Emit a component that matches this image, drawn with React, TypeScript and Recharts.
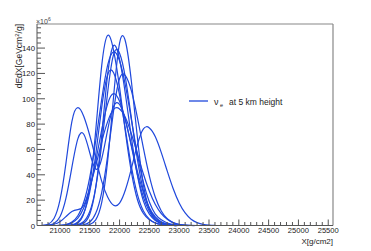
import React from 'react';
import { LineChart, Line, XAxis, YAxis, ReferenceLine } from 'recharts';

// depth grid [g/cm2] shared by all profiles
const depth = [
  20700, 20800, 20900, 21000, 21100, 21200, 21300, 21400, 21500, 21600,
  21700, 21800, 21900, 22000, 22100, 22200, 22300, 22400, 22500, 22600,
  22700, 22800, 22900, 23000, 23100, 23200, 23300, 23400, 23500, 23600,
];

// dE/dX profiles (x10^6), one per shower
const showerA = [0, 0, 0, 0, 0, 0.3, 2, 9.4, 31.7, 75, 126, 150, 138, 109, 73, 41.7, 20.3, 9.5, 4.5, 2, 0.8, 0.3, 0, 0, 0, 0, 0, 0, 0, 0];
const showerB = [0, 0, 0, 0, 0, 0, 0, 0.1, 0.8, 4.5, 18, 51, 102, 144, 145, 113, 69, 32, 13, 5, 2, 0.7, 0.2, 0, 0, 0, 0, 0, 0, 0];
const showerC = [0, 0, 0, 0, 0, 0, 0.3, 1.9, 8.9, 30, 71, 119, 142, 131, 103, 69, 39.5, 19.2, 9, 4, 1.6, 0.6, 0.2, 0, 0, 0, 0, 0, 0, 0];
const showerD = [0, 0, 0, 0, 0, 0.1, 0.7, 3.2, 11, 30, 64, 105, 135, 136, 116, 84, 52, 27.5, 13, 6, 2.5, 1, 0.3, 0, 0, 0, 0, 0, 0, 0];
const showerE = [0, 0, 0, 0.2, 0.8, 2.7, 7.7, 18.5, 38, 67, 99.5, 126.5, 137, 130, 110, 83, 56, 34, 18.5, 9, 4.5, 2, 0.8, 0.3, 0, 0, 0, 0, 0, 0];
const showerF = [0, 0, 0, 0, 0.1, 0.6, 2.8, 9.8, 26.6, 56, 93, 119, 120.5, 103, 75, 46, 24.4, 11.5, 5, 2, 0.8, 0.3, 0, 0, 0, 0, 0, 0, 0, 0];
const showerG = [0, 0, 0, 0, 0, 0, 0.1, 0.6, 2.7, 9.6, 26, 55, 90.6, 116, 118, 106, 85, 61, 39, 22.3, 11.5, 5.3, 2.2, 0.8, 0.3, 0, 0, 0, 0, 0];
const showerH = [0, 0, 0, 0.2, 0.6, 2.1, 5.8, 14, 29, 50.6, 75.5, 96, 104, 98, 83, 63, 42.7, 26, 14, 6.8, 3, 1.2, 0.4, 0.1, 0, 0, 0, 0, 0, 0];
const showerJ = [0, 0.3, 1, 3, 7, 11, 12.5, 16, 30, 47, 66, 82, 91.7, 92, 85, 72, 56.5, 40.6, 27, 16.6, 9.4, 4.9, 2.3, 1, 0.4, 0.1, 0, 0, 0, 0];
const showerK = [0.1, 1, 5.5, 20, 49, 82, 93, 86, 71, 53, 35, 22.5, 16, 17.7, 28.4, 45.3, 64, 76.3, 77, 70, 57.5, 42.9, 29, 17.8, 9.9, 5, 2.3, 0.9, 0.3, 0.1];
const showerL = [0, 0.25, 1.6, 6.9, 21.4, 45.9, 68.4, 72, 57.4, 44.6, 52.6, 75.5, 94, 95.5, 82.5, 62, 40, 22.5, 11, 4.4, 1.5, 0.5, 0.1, 0, 0, 0, 0, 0, 0, 0];

const showers: Record<string, number[]> = {
  a: showerA, b: showerB, c: showerC, d: showerD, e: showerE, f: showerF,
  g: showerG, h: showerH, j: showerJ, k: showerK, l: showerL,
};

// labelled ticks
const xMajor = [21000, 21500, 22000, 22500, 23000, 23500, 24000, 24500, 25000, 25500];
const yMajor = [0, 20, 40, 60, 80, 100, 120, 140];

const X_MIN = 20615;
const X_MAX = 25580;
const Y_MAX = 159;

const xTicks: number[] = [];
for (let v = 20700; v <= 25500; v += 100) xTicks.push(v);
const yTicks: number[] = [];
for (let v = 0; v <= 156; v += 4) yTicks.push(v);

const data = depth.map((x, i) => {
  const row: Record<string, number> = { x };
  Object.keys(showers).forEach((k) => { row[k] = showers[k][i]; });
  return row;
});

const FONT = '"Liberation Sans", Arial, sans-serif';
const BLUE = '#1f48dc';
const AXIS = '#555';

const XTick = (props: any) => {
  const { x, y, payload } = props;
  const major = xMajor.includes(payload.value);
  return (
    <g>
      <line x1={x} x2={x} y1={y} y2={y - (major ? 6 : 3.5)} stroke={AXIS} strokeWidth={1} />
      {major && (
        <text x={x} y={y + 7.5} textAnchor="middle" fontSize={7.6} fill="#222" fontFamily={FONT}>
          {payload.value}
        </text>
      )}
    </g>
  );
};

const YTick = (props: any) => {
  const { x, y, payload } = props;
  const major = yMajor.includes(payload.value);
  return (
    <g>
      <line x1={x} x2={x + (major ? 8 : 4)} y1={y} y2={y} stroke={AXIS} strokeWidth={1} />
      {major && (
        <text x={x - 2} y={y + 3} textAnchor="end" fontSize={7.8} fill="#222" fontFamily={FONT}>
          {payload.value}
        </text>
      )}
    </g>
  );
};

export default function App() {
  return (
    <div style={{ position: 'absolute', left: 0, top: 0, width: 371, height: 251, background: '#fff' }}>
      <LineChart
        width={371}
        height={251}
        data={data}
        margin={{ top: 24, right: 38, bottom: 0, left: 0 }}
      >
        <XAxis
          type="number"
          dataKey="x"
          domain={[X_MIN, X_MAX]}
          ticks={xTicks}
          interval={0}
          height={25.5}
          tickSize={0}
          tickMargin={0}
          tickLine={false}
          tick={XTick}
          axisLine={{ stroke: AXIS }}
        />
        <YAxis
          type="number"
          domain={[0, Y_MAX]}
          ticks={yTicks}
          interval={0}
          width={37}
          tickSize={0}
          tickMargin={0}
          tickLine={false}
          tick={YTick}
          axisLine={{ stroke: AXIS }}
        />
        <ReferenceLine y={Y_MAX} stroke="#888" strokeWidth={1.2} ifOverflow="extendDomain" />
        <ReferenceLine x={X_MAX} stroke="#888" strokeWidth={1.2} ifOverflow="extendDomain" />
        {Object.keys(showers).map((k) => (
          <Line
            key={k}
            type="natural"
            dataKey={k}
            stroke={BLUE}
            strokeWidth={1.2}
            dot={false}
            activeDot={false}
            isAnimationActive={false}
          />
        ))}
      </LineChart>
      <svg width={371} height={251} style={{ position: 'absolute', left: 0, top: 0, pointerEvents: 'none' }}>
        <g fontFamily={FONT}>
          <text transform="translate(21.5,24) rotate(-90)" textAnchor="end" fontSize={8.5} fill="#222">
            dEdX[GeVcm<tspan dy={-3} fontSize={6}>2</tspan><tspan dy={3}>/g]</tspan>
          </text>
          <text x={36} y={23.5} fontSize={7} fill="#444">
            ×10<tspan dy={-2.5} fontSize={5}>6</tspan>
          </text>
          <text x={333} y={243.5} textAnchor="end" fontSize={8} fill="#222">X[g/cm2]</text>
          <line x1={189} x2={208} y1={101} y2={101} stroke={BLUE} strokeWidth={1.3} />
          <text x={214} y={104.5} fontSize={9} fill="#222">ν</text>
          <text x={220} y={107} fontSize={5.5} fill="#222">e</text>
          <text x={229} y={104.5} fontSize={8.5} fill="#222">at 5 km height</text>
        </g>
      </svg>
    </div>
  );
}
